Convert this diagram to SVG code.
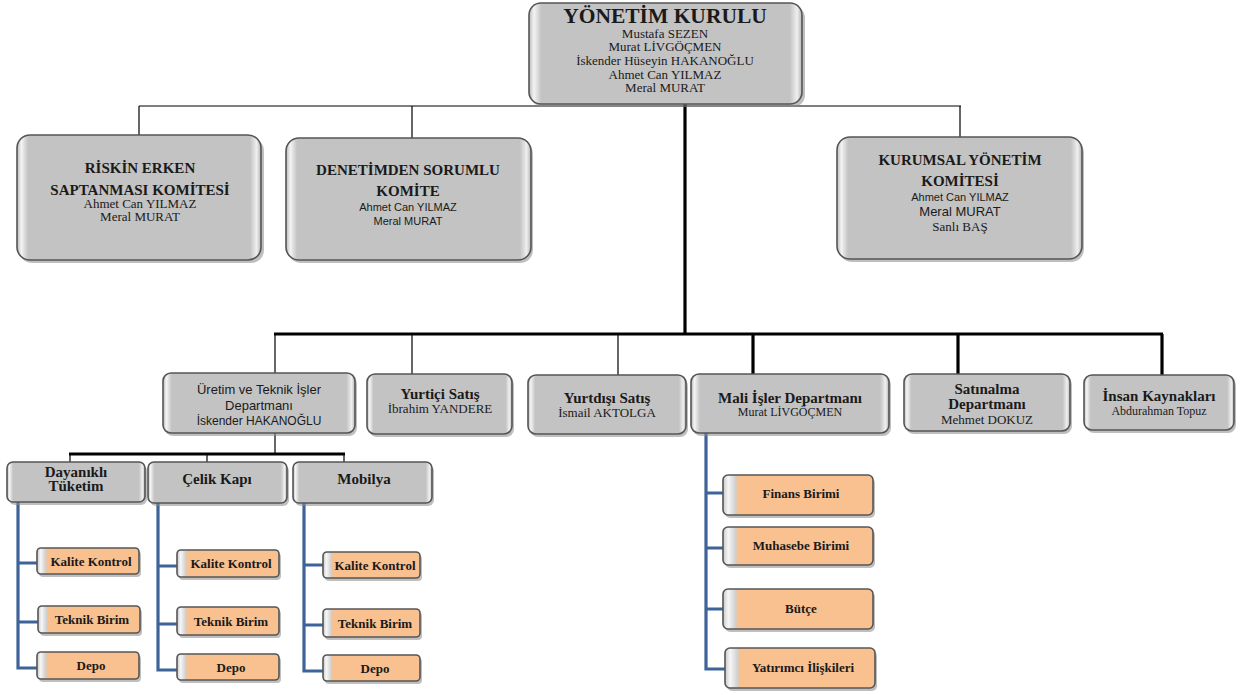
<svg xmlns="http://www.w3.org/2000/svg" width="1252" height="695" viewBox="0 0 1252 695">
<defs>
<linearGradient id="gGray" x1="0" y1="0" x2="1" y2="0">
<stop offset="0" stop-color="#b9b9b9"/>
<stop offset="0.018" stop-color="#f4f4f4"/>
<stop offset="0.045" stop-color="#c3c3c3"/>
<stop offset="0.955" stop-color="#c3c3c3"/>
<stop offset="0.982" stop-color="#efefef"/>
<stop offset="1" stop-color="#b5b5b5"/>
</linearGradient>
<linearGradient id="gOrange" x1="0" y1="0" x2="1" y2="0">
<stop offset="0" stop-color="#c9c9c9"/>
<stop offset="0.035" stop-color="#f6f6f6"/>
<stop offset="0.085" stop-color="#cfcfcf"/>
<stop offset="0.1" stop-color="#f9c18f"/>
<stop offset="1" stop-color="#f9c18f"/>
</linearGradient>
</defs>
<style>
.box{fill:url(#gGray);stroke:#555;stroke-width:1.6}
.obox{fill:url(#gOrange);stroke:#555;stroke-width:1.6}
.sh{fill:#8a8a8a;opacity:0.55}
.t{font-family:"Liberation Serif",serif;fill:#1a1a1a;text-anchor:middle}
.b{font-weight:bold}
.s{font-family:"Liberation Sans",sans-serif}
.thin{stroke:#000;stroke-width:1.2;fill:none}
.thick{stroke:#000;stroke-width:3.2;fill:none}
.blue{stroke:#3d6399;stroke-width:3.2;fill:none}
</style>

<g id="connectors">
<line class="thin" x1="139" y1="106" x2="961" y2="106"/>
<line class="thin" x1="139" y1="106" x2="139" y2="136"/>
<line class="thin" x1="412" y1="106" x2="412" y2="139"/>
<line class="thin" x1="960" y1="106" x2="960" y2="138"/>
<line class="thick" x1="685" y1="104" x2="685" y2="334"/>
<line class="thick" x1="274" y1="334" x2="1163" y2="334"/>
<line class="thin" x1="275" y1="334" x2="275" y2="373"/>
<line class="thin" x1="412" y1="334" x2="412" y2="374"/>
<line class="thin" x1="618" y1="334" x2="618" y2="375"/>
<line class="thick" x1="753" y1="334" x2="753" y2="374"/>
<line class="thick" x1="958" y1="334" x2="958" y2="374"/>
<line class="thick" x1="1162" y1="334" x2="1162" y2="375"/>
<line class="thin" x1="275" y1="433" x2="275" y2="454"/>
<line class="thick" x1="69" y1="454" x2="345" y2="454"/>
<line class="thin" x1="70" y1="454" x2="70" y2="462"/>
<line class="thin" x1="207" y1="454" x2="207" y2="462"/>
<line class="thin" x1="344" y1="454" x2="344" y2="462"/>
<path class="blue" d="M18 502 V668 H37 M18 563 H37 M18 622 H38"/>
<path class="blue" d="M158 503 V670 H177 M158 566 H177 M158 624 H177"/>
<path class="blue" d="M304 503 V671 H323 M304 565 H323 M304 625 H323"/>
<path class="blue" d="M706 433 V669 H725 M706 493 H723 M706 548 H723 M706 609 H723"/>
</g>

<g id="yonetim-kurulu">
<rect class="sh" x="531" y="6" width="274" height="101" rx="12"/>
<rect class="box" x="529" y="3" width="273" height="101" rx="12"/>
<text class="t b" x="665" y="23" font-size="21.5">YÖNETİM KURULU</text>
<text class="t" x="665" y="38" font-size="13">Mustafa SEZEN</text>
<text class="t" x="665" y="51" font-size="13">Murat LİVGÖÇMEN</text>
<text class="t" x="665" y="65" font-size="13">İskender Hüseyin HAKANOĞLU</text>
<text class="t" x="665" y="79" font-size="13">Ahmet Can YILMAZ</text>
<text class="t" x="665" y="92" font-size="13">Meral MURAT</text>
</g>

<g id="riskin">
<rect class="sh" x="19" y="138" width="245" height="125" rx="13"/>
<rect class="box" x="17" y="135" width="244" height="125" rx="13"/>
<text class="t b" x="140" y="173" font-size="15">RİSKİN ERKEN</text>
<text class="t b" x="140" y="195" font-size="15">SAPTANMASI KOMİTESİ</text>
<text class="t" x="140" y="208" font-size="13">Ahmet Can YILMAZ</text>
<text class="t" x="140" y="221" font-size="13">Meral MURAT</text>
</g>

<g id="denetim">
<rect class="sh" x="288" y="141" width="245" height="122" rx="13"/>
<rect class="box" x="286" y="138" width="245" height="122" rx="13"/>
<text class="t b" x="408" y="175" font-size="15">DENETİMDEN SORUMLU</text>
<text class="t b" x="408" y="196" font-size="15">KOMİTE</text>
<text class="t s" x="408" y="211" font-size="11">Ahmet Can YILMAZ</text>
<text class="t s" x="408" y="225" font-size="11">Meral MURAT</text>
</g>

<g id="kurumsal">
<rect class="sh" x="839" y="140" width="245" height="122" rx="13"/>
<rect class="box" x="837" y="137" width="245" height="122" rx="13"/>
<text class="t b" x="960" y="165" font-size="15">KURUMSAL YÖNETİM</text>
<text class="t b" x="960" y="186" font-size="15">KOMİTESİ</text>
<text class="t s" x="960" y="201" font-size="11">Ahmet Can YILMAZ</text>
<text class="t s" x="960" y="216" font-size="13">Meral MURAT</text>
<text class="t" x="960" y="231" font-size="13">Sanlı BAŞ</text>
</g>

<g id="uretim">
<rect class="sh" x="165" y="376" width="192" height="60" rx="8"/>
<rect class="box" x="163" y="373" width="192" height="60" rx="8"/>
<text class="t s" x="259" y="394" font-size="13">Üretim ve Teknik İşler</text>
<text class="t s" x="259" y="410" font-size="13">Departmanı</text>
<text class="t s" x="259" y="425" font-size="12">İskender HAKANOĞLU</text>
</g>

<g id="yurtici">
<rect class="sh" x="369" y="377" width="145" height="60" rx="8"/>
<rect class="box" x="367" y="374" width="145" height="60" rx="8"/>
<text class="t b" x="440" y="399" font-size="15">Yurtiçi Satış</text>
<text class="t" x="440" y="413" font-size="13">İbrahim YANDERE</text>
</g>

<g id="yurtdisi">
<rect class="sh" x="530" y="378" width="158" height="59" rx="8"/>
<rect class="box" x="528" y="375" width="158" height="59" rx="8"/>
<text class="t b" x="607" y="403" font-size="15">Yurtdışı Satış</text>
<text class="t" x="607" y="417" font-size="13">İsmail AKTOLGA</text>
</g>

<g id="mali">
<rect class="sh" x="693" y="377" width="198" height="59" rx="8"/>
<rect class="box" x="691" y="374" width="198" height="59" rx="8"/>
<text class="t b" x="790" y="403" font-size="15">Mali İşler Departmanı</text>
<text class="t" x="790" y="416" font-size="12">Murat LİVGÖÇMEN</text>
</g>

<g id="satinalma">
<rect class="sh" x="906" y="377" width="166" height="57" rx="8"/>
<rect class="box" x="904" y="374" width="166" height="57" rx="8"/>
<text class="t b" x="987" y="394" font-size="15">Satınalma</text>
<text class="t b" x="987" y="409" font-size="15">Departmanı</text>
<text class="t" x="987" y="424" font-size="13">Mehmet DOKUZ</text>
</g>

<g id="insan">
<rect class="sh" x="1086" y="378" width="150" height="55" rx="8"/>
<rect class="box" x="1084" y="375" width="150" height="55" rx="8"/>
<text class="t b" x="1159" y="401" font-size="15">İnsan Kaynakları</text>
<text class="t" x="1159" y="415" font-size="12">Abdurahman Topuz</text>
</g>

<g id="dayanikli">
<rect class="sh" x="9" y="465" width="138" height="40" rx="6"/>
<rect class="box" x="7" y="462" width="138" height="40" rx="6"/>
<text class="t b" x="76" y="477" font-size="15">Dayanıklı</text>
<text class="t b" x="76" y="491" font-size="15">Tüketim</text>
</g>

<g id="celik">
<rect class="sh" x="150" y="465" width="139" height="41" rx="6"/>
<rect class="box" x="148" y="462" width="139" height="41" rx="6"/>
<text class="t b" x="217" y="484" font-size="15">Çelik Kapı</text>
</g>

<g id="mobilya">
<rect class="sh" x="295" y="465" width="139" height="41" rx="6"/>
<rect class="box" x="293" y="462" width="139" height="41" rx="6"/>
<text class="t b" x="364" y="484" font-size="15">Mobilya</text>
</g>

<g id="dt-kalite">
<rect class="sh" x="39" y="551" width="102" height="26" rx="4"/>
<rect class="obox" x="37" y="548" width="102" height="26" rx="4"/>
<text class="t b" x="91" y="566" font-size="13">Kalite Kontrol</text>
</g>
<g id="dt-teknik">
<rect class="sh" x="40" y="609" width="102" height="27" rx="4"/>
<rect class="obox" x="38" y="606" width="102" height="27" rx="4"/>
<text class="t b" x="92" y="624" font-size="13">Teknik Birim</text>
</g>
<g id="dt-depo">
<rect class="sh" x="39" y="655" width="102" height="27" rx="4"/>
<rect class="obox" x="37" y="652" width="102" height="27" rx="4"/>
<text class="t b" x="91" y="670" font-size="13">Depo</text>
</g>

<g id="ck-kalite">
<rect class="sh" x="179" y="553" width="102" height="27" rx="4"/>
<rect class="obox" x="177" y="550" width="102" height="27" rx="4"/>
<text class="t b" x="231" y="568" font-size="13">Kalite Kontrol</text>
</g>
<g id="ck-teknik">
<rect class="sh" x="179" y="610" width="102" height="28" rx="4"/>
<rect class="obox" x="177" y="607" width="102" height="28" rx="4"/>
<text class="t b" x="231" y="626" font-size="13">Teknik Birim</text>
</g>
<g id="ck-depo">
<rect class="sh" x="179" y="657" width="102" height="26" rx="4"/>
<rect class="obox" x="177" y="654" width="102" height="26" rx="4"/>
<text class="t b" x="231" y="672" font-size="13">Depo</text>
</g>

<g id="mb-kalite">
<rect class="sh" x="325" y="555" width="97" height="26" rx="4"/>
<rect class="obox" x="323" y="552" width="97" height="26" rx="4"/>
<text class="t b" x="375" y="570" font-size="13">Kalite Kontrol</text>
</g>
<g id="mb-teknik">
<rect class="sh" x="325" y="612" width="97" height="28" rx="4"/>
<rect class="obox" x="323" y="609" width="97" height="28" rx="4"/>
<text class="t b" x="375" y="628" font-size="13">Teknik Birim</text>
</g>
<g id="mb-depo">
<rect class="sh" x="325" y="658" width="97" height="26" rx="4"/>
<rect class="obox" x="323" y="655" width="97" height="26" rx="4"/>
<text class="t b" x="375" y="673" font-size="13">Depo</text>
</g>

<g id="finans">
<rect class="sh" x="725" y="478" width="150" height="40" rx="5"/>
<rect class="obox" x="723" y="475" width="150" height="40" rx="5"/>
<text class="t b" x="801" y="498" font-size="13">Finans Birimi</text>
</g>
<g id="muhasebe">
<rect class="sh" x="725" y="530" width="150" height="38" rx="5"/>
<rect class="obox" x="723" y="527" width="150" height="38" rx="5"/>
<text class="t b" x="801" y="550" font-size="13">Muhasebe Birimi</text>
</g>
<g id="butce">
<rect class="sh" x="725" y="592" width="150" height="40" rx="5"/>
<rect class="obox" x="723" y="589" width="150" height="40" rx="5"/>
<text class="t b" x="801" y="613" font-size="13">Bütçe</text>
</g>
<g id="yatirimci">
<rect class="sh" x="727" y="651" width="150" height="40" rx="5"/>
<rect class="obox" x="725" y="648" width="150" height="40" rx="5"/>
<text class="t b" x="803" y="672" font-size="13">Yatırımcı İlişkileri</text>
</g>
</svg>
